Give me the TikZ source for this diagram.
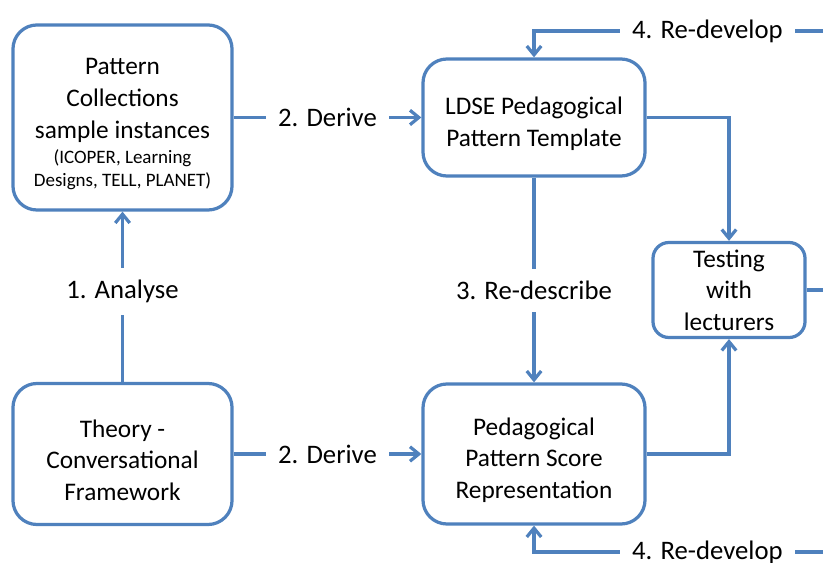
\documentclass[tikz,border=0pt]{standalone}
\usepackage{fontspec}
\setmainfont{Carlito}
\usetikzlibrary{arrows.meta,positioning}
\definecolor{lineblue}{RGB}{79,129,189}
\newcommand\smalltxt{\fontsize{13.5}{17}\selectfont}
\newcommand\padtop{\rule{0pt}{21pt}}
\tikzset{
  box/.style={draw=lineblue,line width=2.3pt,rounded corners=0.6cm,fill=white,
    align=center,inner sep=0pt,font=\fontsize{18}{22.5}\selectfont},
  link/.style={draw=lineblue,line width=2.3pt},
  arr/.style={link,-{Straight Barb[length=0.22cm,width=0.36cm]}},
  lbl/.style={fill=white,inner sep=0.3cm,font=\fontsize{19}{23}\selectfont}
}

\begin{document}
\begin{tikzpicture}[x=0.025cm,y=-0.025cm]
  \useasboundingbox (0,0) rectangle (823,563);

  \node[box,minimum width=5.475cm,minimum height=4.625cm] (pat) at (122.5,117.5)
    {\padtop Pattern\\Collections\\sample instances\\[-4.5pt]{\smalltxt (ICOPER, Learning}\\[-6pt]{\smalltxt Designs, TELL, PLANET)}};
  \node[box,minimum width=5.475cm,minimum height=3.525cm] (theo) at (122.5,454)
    {\padtop Theory -\\Conversational\\Framework};
  \node[box,minimum width=5.55cm,minimum height=2.925cm] (ldse) at (534,117.5)
    {\padtop LDSE Pedagogical\\Pattern Template};
  \node[box,minimum width=5.55cm,minimum height=3.5cm] (score) at (534,454)
    {\padtop Pedagogical\\Pattern Score\\Representation};
  \node[box,minimum width=3.8cm,minimum height=2.375cm,rounded corners=0.4cm] (test) at (729,290)
    {Testing\\with\\lecturers};

  \coordinate (out) at (823,290);
  \coordinate (rdtop) at (823,31);
  \coordinate (rdbot) at (823,552);

  \draw[arr] (theo) -- node[lbl,pos=0.53] {1. Analyse} (pat);
  \draw[arr] (pat) -- node[lbl] {2. Derive} (ldse);
  \draw[arr] (theo) -- node[lbl] {2. Derive} (score);
  \draw[arr] (ldse) -- node[lbl,pos=0.55] {3. Re-describe} (score);
  \draw[arr] (ldse) -| (test);
  \draw[arr] (score) -| (test);
  \draw[link] (test) -- (out);
  \draw[arr] (rdtop) -- node[lbl,pos=0.4] {4. Re-develop} (rdtop -| ldse) -- (ldse);
  \draw[arr] (rdbot) -- node[lbl,pos=0.4] {4. Re-develop} (rdbot -| score) -- (score);
\end{tikzpicture}
\end{document}
